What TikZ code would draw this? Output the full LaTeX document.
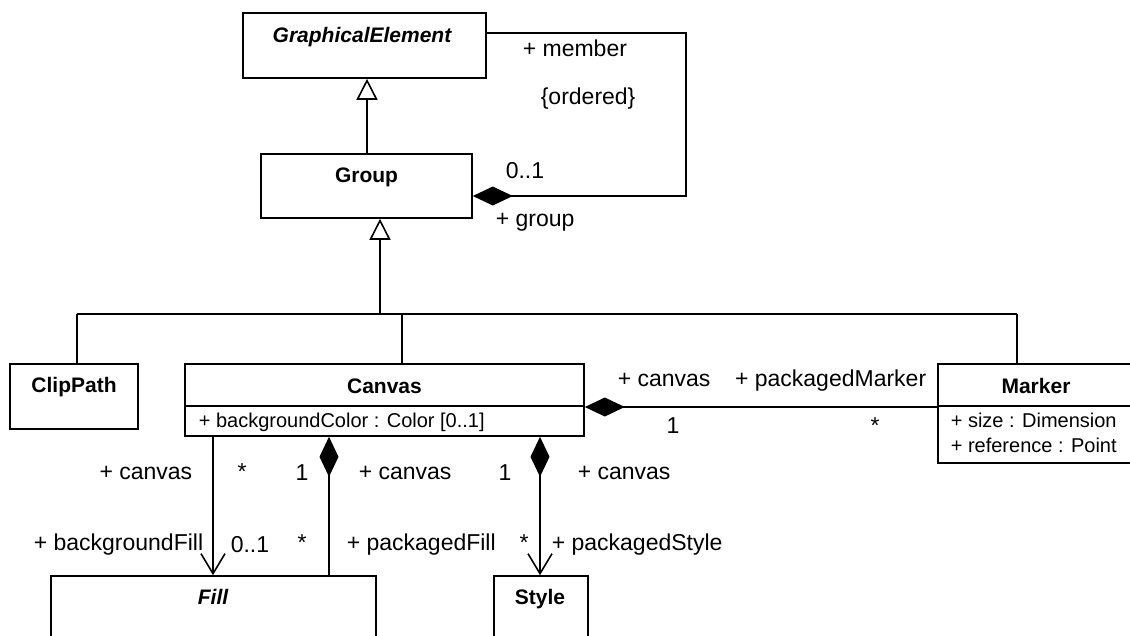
\documentclass[tikz,border=0pt]{standalone}
\usepackage{fontspec}
\setmainfont{Liberation Sans}
\usetikzlibrary{arrows.meta}
\begin{document}
\begin{tikzpicture}[x=1pt,y=-1pt, line width=1.6pt,
  box/.style={draw, line width=1.6pt, rectangle, inner sep=0pt},
  cname/.style={font=\fontsize{21}{25}\selectfont\bfseries, anchor=base, inner sep=0pt},
  attr/.style={font=\fontsize{20}{24}\selectfont, anchor=base west, inner sep=0pt},
  lbl/.style={font=\fontsize{23}{27}\selectfont, inner sep=0pt},
  gen/.style={-{Triangle[fill=white,length=21pt,width=21pt]}},
  nav/.style={-{Straight Barb[length=20pt,width=24pt]}},
  comp/.style={{Diamond[length=40pt,width=19pt]}-},
  compnav/.style={{Diamond[length=40pt,width=19pt]}-{Straight Barb[length=20pt,width=24pt]}},
]
\useasboundingbox (0,0) rectangle (1130,635);
\clip (0,0) rectangle (1130,635);

% classes
\node[box, minimum width=243pt, minimum height=65pt] (ge) at (364.5,45.5) {};
\node[box, minimum width=211pt, minimum height=64pt] (group) at (366.5,186) {};
\node[box, minimum width=128pt, minimum height=65pt] (clip) at (74,396.5) {};
\node[box, minimum width=399pt, minimum height=72pt] (canvas) at (384.5,400) {};
\node[box, minimum width=194pt, minimum height=99pt] (marker) at (1035,413.5) {};
\node[box, minimum width=325pt, minimum height=74pt] (fill) at (213.5,613) {};
\node[box, minimum width=94pt, minimum height=74pt] (style) at (541,613) {};

% compartments
\coordinate (sep) at (0,406);
\draw (canvas.west |- sep) -- (canvas.east |- sep);
\draw (marker.west |- sep) -- (marker.east |- sep);

% class names
\node[cname, font=\fontsize{21}{25}\selectfont\bfseries\itshape] (tge) at (362,42.5) {GraphicalElement};
\node[cname] (tgroup) at (366.5,182) {Group};
\node[cname] (tclip) at (74,392) {ClipPath};
\node[cname] (tcanvas) at (384.5,393) {Canvas};
\node[cname] (tmarker) at (1036,393) {Marker};
\node[cname, font=\fontsize{21}{25}\selectfont\bfseries\itshape] (tfill) at (213,604) {Fill};
\node[cname] (tstyle) at (540,604) {Style};

% attributes
\node[attr] (a1) at (198,427) {+ backgroundColor : Color [0..1]};
\node[attr] (a2) at (950,427) {+ size : Dimension};
\node[attr] (a3) at (950,452) {+ reference : Point};

% generalizations
\coordinate (xg1) at (367,0);
\coordinate (hub) at (380,314);
\coordinate (xclip) at (77,0);
\coordinate (xcanv) at (402,0);
\coordinate (xmark) at (1017,0);
\draw[gen] (group.north -| xg1) -- (ge.south -| xg1);
\draw[gen] (hub) -- (group.south -| hub);
\draw (hub -| xclip) -- (hub -| xmark);
\draw (hub -| xclip) -- (clip.north -| xclip);
\draw (hub -| xcanv) -- (canvas.north -| xcanv);
\draw (hub -| xmark) -- (marker.north -| xmark);

% self composition
\coordinate (ly1) at (0,33);
\coordinate (ly2) at (0,196);
\coordinate (lx) at (686,0);
\draw[comp] (group.east |- ly2) -- (lx |- ly2) -- (lx |- ly1) -- (ge.east |- ly1);
\node[lbl, anchor=base west] (l1) at (522,56) {+ member};
\node[lbl, anchor=base west] (l2) at (540,104) {\{ordered\}};
\node[lbl, anchor=base west] (l3) at (505,178) {0..1};
\node[lbl, anchor=base west] (l4) at (495,226) {+ group};

% canvas - marker
\coordinate (my) at (0,407);
\draw[comp] (canvas.east |- my) -- (marker.west |- my);
\node[lbl, anchor=base west] (m1) at (617,386) {+ canvas};
\node[lbl, anchor=base east] (m2) at (927,386) {+ packagedMarker};
\node[lbl, anchor=base] (m3) at (673,433) {1};
\node[lbl, anchor=base] (m4) at (875,433) {*};

% canvas - fill / style
\coordinate (xa) at (213,0);
\coordinate (xb) at (329,0);
\coordinate (xc) at (540,0);
\draw[nav] (canvas.south -| xa) -- (fill.north -| xa);
\draw[comp] (canvas.south -| xb) -- (fill.north -| xb);
\draw[compnav] (canvas.south -| xc) -- (style.north -| xc);

\node[lbl, anchor=base east] (b1) at (193,479) {+ canvas};
\node[lbl, anchor=base] (b2) at (242,479) {*};
\node[lbl, anchor=base] (b3) at (302,480) {1};
\node[lbl, anchor=base west] (b4) at (358,479) {+ canvas};
\node[lbl, anchor=base] (b5) at (505,480) {1};
\node[lbl, anchor=base west] (b6) at (577,479) {+ canvas};

\node[lbl, anchor=base east] (c1) at (204,550) {+ backgroundFill};
\node[lbl, anchor=base west] (c2) at (230,552) {0..1};
\node[lbl, anchor=base] (c3) at (302,550) {*};
\node[lbl, anchor=base west] (c4) at (346,550) {+ packagedFill};
\node[lbl, anchor=base] (c5) at (524,550) {*};
\node[lbl, anchor=base west] (c6) at (551,550) {+ packagedStyle};
\end{tikzpicture}
\end{document}
